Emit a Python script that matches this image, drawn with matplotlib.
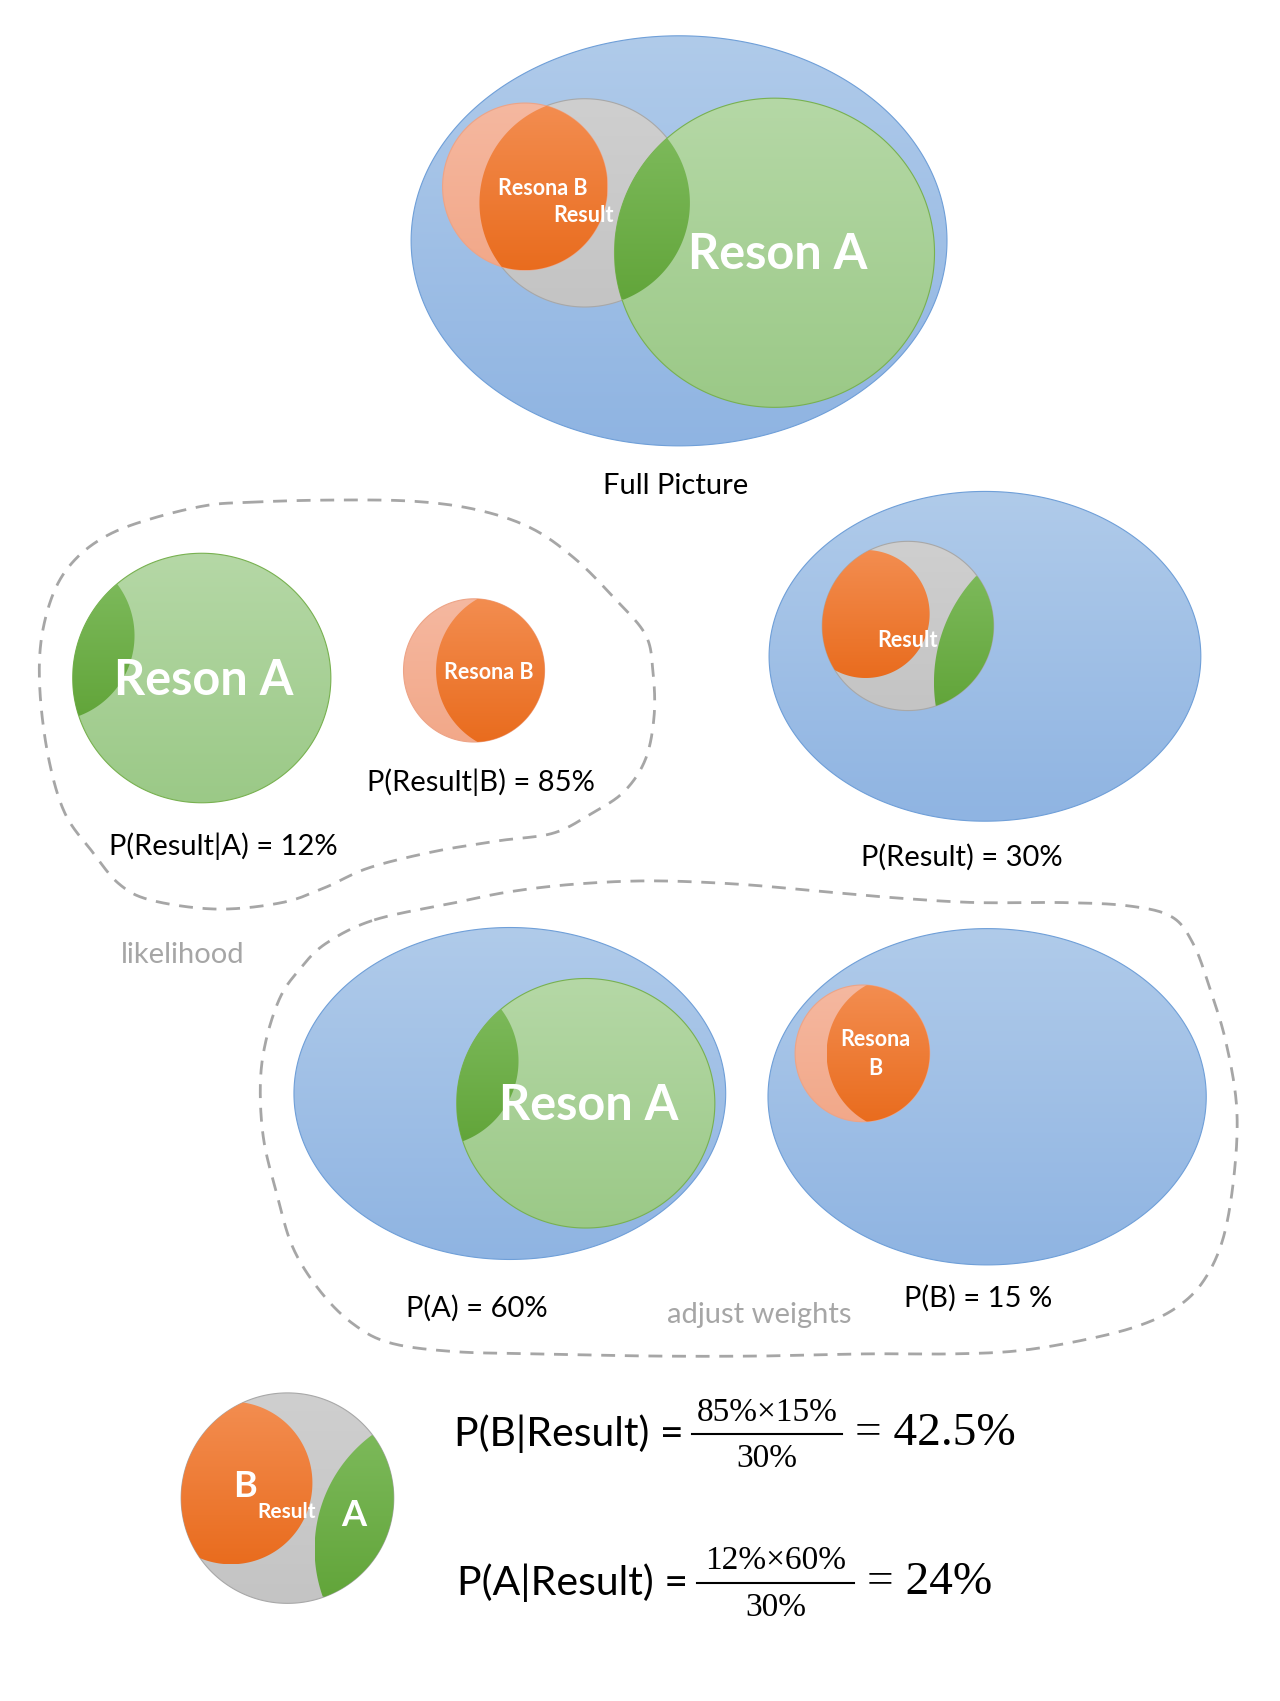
import matplotlib
matplotlib.use('Agg')
import matplotlib.pyplot as plt
from matplotlib.patches import Polygon
from matplotlib.colors import to_rgb
import numpy as np

# probabilities (percent)
p_a = 60
p_b = 15
p_res_given_a = 12
p_res_given_b = 85
p_res = 30

post_b = p_res_given_b * p_b / p_res
post_a = p_res_given_a * p_a / p_res

SANS = ['Lato', 'DejaVu Sans']
SERIF = ['Liberation Serif', 'DejaVu Serif']

BLUE = ('#b0cbea', '#8fb4e2')
GREEN_L = ('#b5d8a6', '#9bc987')
GREEN_D = ('#7cb95a', '#62a53a')
ORANGE = ('#f38d50', '#e96c1e')
SALMON = ('#f5b8a0', '#f2a889')
GRAY = ('#cfcfcf', '#c4c4c4')

fig = plt.figure(figsize=(12.8, 17.01), dpi=100)
ax = fig.add_axes([0, 0, 1, 1])
W, H = 1180, 1568


def ell_pts(e, n=500):
    cx, cy, w, h = e
    t = np.linspace(0, 2 * np.pi, n, endpoint=False)
    return np.column_stack([cx + w / 2 * np.cos(t), cy + h / 2 * np.sin(t)])


def inside(p, e):
    cx, cy, w, h = e
    return ((p[:, 0] - cx) / (w / 2)) ** 2 + ((p[:, 1] - cy) / (h / 2)) ** 2 <= 1


def inter(e1, e2):
    a = ell_pts(e1)
    b = ell_pts(e2)
    pts = np.vstack([a[inside(a, e2)], b[inside(b, e1)]])
    c = pts.mean(axis=0)
    order = np.argsort(np.arctan2(pts[:, 1] - c[1], pts[:, 0] - c[0]))
    return pts[order]


def grad_fill(verts, cols, z, edge='none', lw=0.8):
    verts = np.asarray(verts)
    x0, y0 = verts.min(axis=0)
    x1, y1 = verts.max(axis=0)
    c0, c1 = np.array(to_rgb(cols[0])), np.array(to_rgb(cols[1]))
    t = np.linspace(0, 1, 256)[:, None, None]
    img = c0 * (1 - t) + c1 * t
    im = ax.imshow(img, extent=(x0, x1, y1, y0), origin='upper', aspect='auto',
                   zorder=z, interpolation='bilinear')
    patch = Polygon(verts, closed=True, facecolor='none', edgecolor=edge,
                    linewidth=lw, zorder=z + 0.01)
    ax.add_patch(patch)
    im.set_clip_path(patch)


def shape(e, cols, z, edge='none', lw=0.8):
    grad_fill(ell_pts(e), cols, z, edge, lw)


def smooth_closed(pts, n=24):
    P = np.array(pts, dtype=float)
    N = len(P)
    out = []
    t = np.linspace(0, 1, n, endpoint=False)[:, None]
    for i in range(N):
        p0, p1, p2, p3 = P[i - 1], P[i], P[(i + 1) % N], P[(i + 2) % N]
        out.append(0.5 * (2 * p1 + (-p0 + p2) * t + (2 * p0 - 5 * p1 + 4 * p2 - p3) * t ** 2
                          + (-p0 + 3 * p1 - 3 * p2 + p3) * t ** 3))
    out = np.vstack(out)
    return np.vstack([out, out[:1]])


def label(x, y, s, size, color='black', weight='normal', family=SANS):
    ax.text(x, y, s, ha='center', va='center', fontsize=size, color=color,
            fontweight=weight, family=family, zorder=20)


# ---------------- top: full picture ----------------
blue0 = (626, 222, 494, 378)
gray0 = (539, 187, 194, 192)
org0 = (484, 172, 152, 154)
grn0 = (714, 233, 295, 285)
shape(blue0, BLUE, 1, '#6f9fd8')
shape(gray0, GRAY, 2, '#a8a8a8')
shape(org0, SALMON, 3, '#eda487')
grad_fill(inter(org0, gray0), ORANGE, 4)
shape(grn0, GREEN_L, 5, '#78b150')
grad_fill(inter(grn0, gray0), GREEN_D, 6)
label(500, 174, 'Resona B', 15.5, 'white', 'bold')
label(538, 199, 'Result', 15.5, 'white', 'bold')
label(717, 235, 'Reson A', 35, 'white', 'bold')
label(623, 448, 'Full Picture', 21)

# ---------------- middle left: likelihood ----------------
grn1 = (186, 625, 238, 230)
cut1 = (45, 586, 158, 158)
shape(grn1, GREEN_L, 5, '#78b150')
grad_fill(inter(grn1, cut1), GREEN_D, 6)
label(188, 627, 'Reson A', 35, 'white', 'bold')

org1 = (437, 618, 130, 132)
cut1b = (478, 618, 152, 152)
shape(org1, SALMON, 3, '#eda487')
grad_fill(inter(org1, cut1b), ORANGE, 4)
label(451, 620, 'Resona B', 15.5, 'white', 'bold')

label(443, 721, 'P(Result|B) = %d%%' % p_res_given_b, 21)
label(206, 780, 'P(Result|A) = %d%%' % p_res_given_a, 21)
label(168, 880, 'likelihood', 21, '#a6a6a6')

blob1 = [(230, 463), (300, 461), (380, 462), (440, 470), (490, 487), (530, 515), (565, 550),
         (595, 585), (602, 620), (603, 660), (595, 700), (575, 730), (545, 750), (510, 768),
         (460, 775), (400, 785), (340, 800), (300, 818), (260, 832), (200, 838), (140, 830),
         (110, 815), (85, 785), (60, 750), (45, 700), (37, 640), (38, 590), (50, 545),
         (70, 515), (100, 493), (140, 478), (190, 466)]
b = smooth_closed(blob1)
ax.plot(b[:, 0], b[:, 1], color='#a6a6a6', lw=2, dashes=(5, 3.5), zorder=10)

# ---------------- middle right: P(Result) ----------------
blue2 = (908, 605, 398, 304)
gray2 = (837, 577, 158, 156)
org2 = (798, 566, 118, 118)
grn2 = (1004, 629, 286, 286)
shape(blue2, BLUE, 1, '#6f9fd8')
shape(gray2, GRAY, 2, '#a8a8a8')
grad_fill(inter(org2, gray2), ORANGE, 4)
grad_fill(inter(grn2, gray2), GREEN_D, 6)
label(837, 590, 'Result', 15.5, 'white', 'bold')
label(887, 790, 'P(Result) = %d%%' % p_res, 21)

# ---------------- bottom middle: priors ----------------
blue3 = (470, 1008, 398, 306)
grn3 = (540, 1017, 238, 230)
cut3 = (399, 978, 158, 158)
shape(blue3, BLUE, 1, '#6f9fd8')
shape(grn3, GREEN_L, 5, '#78b150')
grad_fill(inter(grn3, cut3), GREEN_D, 6)
label(543, 1019, 'Reson A', 35, 'white', 'bold')

blue4 = (910, 1011, 404, 310)
org4 = (795, 971, 124, 126)
cut4 = (834, 971, 144, 144)
shape(blue4, BLUE, 1, '#6f9fd8')
shape(org4, SALMON, 3, '#eda487')
grad_fill(inter(org4, cut4), ORANGE, 4)
label(807, 958, 'Resona', 15.5, 'white', 'bold')
label(807, 985, 'B', 15.5, 'white', 'bold')

label(440, 1206, 'P(A) = %d%%' % p_a, 21)
label(700, 1212, 'adjust weights', 21, '#a6a6a6')
label(902, 1197, 'P(B) = %d %%' % p_b, 21)

blob2 = [(345, 848), (420, 832), (470, 822), (530, 815), (600, 812), (680, 815), (760, 822),
         (830, 828), (900, 832), (980, 832), (1040, 835), (1080, 845), (1100, 870), (1115, 910),
         (1130, 960), (1140, 1020), (1138, 1080), (1128, 1140), (1110, 1180), (1085, 1205),
         (1050, 1222), (1000, 1235), (940, 1245), (880, 1248), (800, 1248), (700, 1250),
         (600, 1250), (500, 1248), (420, 1246), (360, 1238), (325, 1220), (295, 1190),
         (270, 1150), (255, 1100), (243, 1050), (240, 1000), (245, 960), (258, 920),
         (275, 895), (300, 870)]
b = smooth_closed(blob2)
ax.plot(b[:, 0], b[:, 1], color='#a6a6a6', lw=2, dashes=(5, 3.5), zorder=10)

# ---------------- bottom: posterior ----------------
gray5 = (265, 1381, 196, 194)
org5 = (213, 1367, 150, 150)
grn5 = (421, 1428, 262, 262)
shape(gray5, GRAY, 2, '#a8a8a8')
grad_fill(inter(org5, gray5), ORANGE, 4)
grad_fill(inter(grn5, gray5), GREEN_D, 6)
label(226, 1370, 'B', 26, 'white', 'bold')
label(264, 1394, 'Result', 15, 'white', 'bold')
label(326, 1397, 'A', 26, 'white', 'bold')

rows = [(1322, 'P(B|Result) =', 524, '%d%%\u00d7%d%%' % (p_res_given_b, p_b), 638, 776,
         '= %g%%' % post_b, 862),
        (1459, 'P(A|Result) =', 528, '%d%%\u00d7%d%%' % (p_res_given_a, p_a), 643, 787,
         '= %g%%' % post_a, 857)]
for y, lhs, lx, num, fx0, fx1, rhs, rx in rows:
    label(lx, y, lhs, 29.5)
    fc = (fx0 + fx1) / 2
    label(fc, y - 20, num, 24, family=SERIF)
    ax.plot([fx0, fx1], [y, y], color='black', lw=1.5, zorder=20)
    label(fc, y + 23, '%d%%' % p_res, 24, family=SERIF)
    label(rx, y, rhs, 34, family=SERIF)

ax.set_xlim(0, W)
ax.set_ylim(H, 0)
ax.axis('off')
fig.savefig('out.png', dpi=100, facecolor='white')
